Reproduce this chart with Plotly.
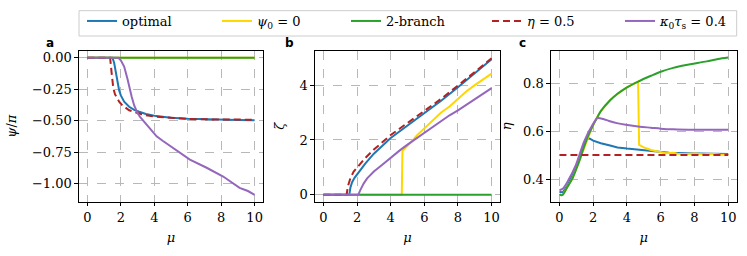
import plotly.graph_objects as go

# ---------------- data ----------------
# Panel a: psi/pi vs mu
a_opt_mu = [0, 1.5, 1.6, 1.7, 1.8, 1.9, 2.0, 2.2, 2.5, 2.8, 3.1, 3.5, 4.0, 4.5, 5.0, 6.0, 7.0, 8.0, 9.0, 10.0]
a_opt_psi = [0, 0, -0.04, -0.11, -0.20, -0.26, -0.30, -0.35, -0.39, -0.415, -0.43, -0.448, -0.462, -0.47, -0.477, -0.486, -0.491, -0.494, -0.496, -0.498]
a_psi0_mu = [0, 10]
a_psi0_psi = [0, 0]
a_2b_mu = [0, 10]
a_2b_psi = [0, 0]
a_eta_mu = [0, 1.36, 1.45, 1.55, 1.65, 1.8, 1.9, 2.1, 2.5, 3.0, 3.5, 4.0, 5.0, 6.0, 7.0, 8.0, 9.0, 10.0]
a_eta_psi = [0, 0, -0.12, -0.24, -0.29, -0.33, -0.35, -0.38, -0.418, -0.44, -0.458, -0.468, -0.48, -0.487, -0.49, -0.492, -0.493, -0.493]
a_kap_mu = [0, 1.85, 2.0, 2.2, 2.4, 2.5, 2.65, 2.8, 3.0, 3.15, 3.4, 3.7, 4.14, 4.5, 5.14, 6.13, 7.13, 8.12, 9.1, 9.6, 10.0]
a_kap_psi = [0, 0, -0.02, -0.07, -0.17, -0.23, -0.31, -0.38, -0.44, -0.47, -0.51, -0.56, -0.625, -0.66, -0.72, -0.81, -0.875, -0.945, -1.035, -1.06, -1.09]

# Panel b: zeta vs mu
b_opt_mu = [0, 1.54, 1.6, 1.7, 1.85, 2.0, 2.5, 3.0, 3.5, 4.0, 4.5, 5.0, 6.0, 7.0, 8.0, 9.0, 10.0]
b_opt_zeta = [0, 0, 0.25, 0.45, 0.62, 0.75, 1.15, 1.5, 1.8, 2.07, 2.3, 2.52, 2.97, 3.43, 3.92, 4.42, 4.94]
b_psi0_mu = [0, 4.66, 4.7, 5.0, 5.3, 5.53, 6.0, 6.51, 7.0, 7.5, 8.0, 8.49, 9.0, 9.5, 10.0]
b_psi0_zeta = [0, 0, 1.6, 1.78, 1.98, 2.15, 2.42, 2.74, 3.0, 3.22, 3.5, 3.77, 4.0, 4.22, 4.42]
b_2b_mu = [0, 10]
b_2b_zeta = [0, 0]
b_eta_mu = [0, 1.38, 1.45, 1.6, 1.8, 2.0, 2.5, 3.0, 3.5, 4.0, 4.5, 5.0, 6.0, 7.0, 8.0, 9.0, 10.0]
b_eta_zeta = [0, 0, 0.3, 0.6, 0.85, 1.0, 1.35, 1.65, 1.93, 2.18, 2.4, 2.62, 3.06, 3.5, 3.98, 4.48, 4.98]
b_kap_mu = [0, 2.07, 2.2, 2.4, 2.6, 3.0, 3.5, 4.0, 4.54, 5.0, 5.53, 6.0, 6.51, 7.0, 7.5, 8.0, 8.49, 9.0, 9.5, 10.0]
b_kap_zeta = [0, 0, 0.18, 0.42, 0.6, 0.85, 1.1, 1.36, 1.62, 1.83, 2.06, 2.27, 2.49, 2.7, 2.9, 3.08, 3.28, 3.5, 3.7, 3.89]

# Panel c: eta vs mu
c_opt_mu = [0, 0.2, 0.47, 0.97, 1.2, 1.46, 1.7, 1.8, 2.0, 2.45, 3.0, 3.44, 4.0, 4.43, 5.0, 5.75, 6.5, 7.5, 8.5, 10.0]
c_opt_eta = [0.346, 0.345, 0.372, 0.445, 0.49, 0.545, 0.57, 0.568, 0.56, 0.549, 0.54, 0.532, 0.527, 0.524, 0.52, 0.514, 0.51, 0.508, 0.506, 0.504]
c_2b_mu = [0, 0.1, 0.2, 0.47, 0.75, 0.97, 1.2, 1.46, 1.7, 1.96, 2.2, 2.45, 3.0, 3.44, 4.0, 4.66, 5.42, 6.0, 6.74, 7.5, 8.72, 9.4, 10.0]
c_2b_eta = [0.337, 0.333, 0.335, 0.367, 0.40, 0.437, 0.48, 0.535, 0.58, 0.62, 0.652, 0.683, 0.728, 0.755, 0.782, 0.806, 0.83, 0.847, 0.863, 0.875, 0.89, 0.90, 0.906]
c_psi0_mu = [0, 0.1, 0.2, 0.47, 0.75, 0.97, 1.2, 1.46, 1.7, 1.96, 2.2, 2.45, 3.0, 3.44, 4.0, 4.66, 4.72, 5.0, 5.42, 5.75, 6.0, 6.3, 6.74, 7.0, 7.5, 8.0, 8.5, 9.0, 9.5, 10.0]
c_psi0_eta = [0.337, 0.333, 0.335, 0.367, 0.40, 0.437, 0.48, 0.535, 0.58, 0.62, 0.652, 0.683, 0.728, 0.755, 0.782, 0.806, 0.542, 0.532, 0.521, 0.515, 0.512, 0.508, 0.51, 0.506, 0.505, 0.507, 0.503, 0.506, 0.502, 0.50]
c_eta_mu = [0, 10]
c_eta_eta = [0.5, 0.5]
c_kap_mu = [0, 0.2, 0.47, 0.97, 1.46, 1.96, 2.25, 2.6, 2.94, 3.4, 3.93, 4.76, 5.42, 6.0, 6.74, 8.0, 9.0, 10.0]
c_kap_eta = [0.354, 0.36, 0.388, 0.458, 0.556, 0.626, 0.654, 0.65, 0.642, 0.633, 0.626, 0.618, 0.614, 0.61, 0.607, 0.605, 0.605, 0.605]

labels = ["optimal", "<i>ψ</i><sub>0</sub> = 0", "2-branch", "<i>η</i> = 0.5",
          "<i>κ</i><sub>0</sub><i>τ</i><sub>s</sub> = 0.4"]
colors = ["#1f77b4", "#ffd700", "#2ca02c", "#b22222", "#9467bd"]
dashes = ["solid", "solid", "solid", "7px,4px", "solid"]

panels = [
    [(a_opt_mu, a_opt_psi), (a_psi0_mu, a_psi0_psi), (a_2b_mu, a_2b_psi), (a_eta_mu, a_eta_psi), (a_kap_mu, a_kap_psi)],
    [(b_opt_mu, b_opt_zeta), (b_psi0_mu, b_psi0_zeta), (b_2b_mu, b_2b_zeta), (b_eta_mu, b_eta_zeta), (b_kap_mu, b_kap_zeta)],
    [(c_opt_mu, c_opt_eta), (c_psi0_mu, c_psi0_eta), (c_2b_mu, c_2b_eta), (c_eta_mu, c_eta_eta), (c_kap_mu, c_kap_eta)],
]

W, H = 747, 256
FONT = "DejaVu Serif"
FS = 13
legnames = ["legend", "legend2", "legend3", "legend4", "legend5"]

fig = go.Figure()
axnames = ["", "2", "3"]
for p, series in enumerate(panels):
    for i, (xs, ys) in enumerate(series):
        smooth = (p == 2 and i in (2, 4))
        fig.add_trace(go.Scatter(
            x=xs, y=ys, mode="lines", name=labels[i],
            line=dict(color=colors[i], width=2, dash=dashes[i],
                      shape="spline" if smooth else "linear", smoothing=0.8),
            xaxis="x" + axnames[p], yaxis="y" + axnames[p],
            showlegend=(p == 0), legend=legnames[i],
        ))

xdoms = [(79, 263), (315, 500), (551, 736.7)]
ydom = [(256 - 201.7) / H, (256 - 50.8) / H]
yranges = [[-1.145, 0.055], [-0.25, 5.25], [0.306, 0.934]]
ytickvals = [[0, -0.25, -0.5, -0.75, -1.0], [0, 2, 4], [0.4, 0.6, 0.8]]
ytickfmt = [".2f", "d", ".1f"]
ytitles = ["<i>ψ</i>/<i>π</i>", "<i>ζ</i>", "<i>η</i>"]
ystandoff = [12, 11, 8]

common = dict(
    showline=True, linecolor="black", linewidth=1.2, mirror=True,
    ticks="outside", ticklen=3.5, tickwidth=1, tickcolor="black",
    showgrid=True, gridcolor="#b8b8b8", griddash="dash", gridwidth=0.8,
    zeroline=False, tickfont=dict(family=FONT, size=FS, color="black"),
)
for p in range(3):
    xa = dict(common)
    xa.update(domain=[xdoms[p][0] / W, xdoms[p][1] / W], range=[-0.5, 10.5],
              tickvals=[0, 2, 4, 6, 8, 10], anchor="y" + axnames[p],
              title=dict(text="<i>μ</i>", standoff=8, font=dict(family=FONT, size=FS, color="black")),
              automargin=False)
    ya = dict(common)
    ya.update(domain=ydom, range=yranges[p], tickvals=ytickvals[p], tickformat=ytickfmt[p],
              anchor="x" + axnames[p],
              title=dict(text=ytitles[p], standoff=ystandoff[p], font=dict(family=FONT, size=FS, color="black")),
              automargin=False)
    fig.update_layout(**{"xaxis" + axnames[p]: xa, "yaxis" + axnames[p]: ya})

for lab, px in zip(["a", "b", "c"], [50.5, 289, 522]):
    fig.add_annotation(text="<b>" + lab + "</b>", x=px / W, y=1 - 43 / H, xref="paper", yref="paper",
                       showarrow=False, xanchor="center", yanchor="middle",
                       font=dict(family="DejaVu Sans", size=12, color="black"))

# legend frame
fig.add_shape(type="rect", xref="paper", yref="paper",
              x0=79 / W, x1=736.7 / W, y0=1 - 36 / H, y1=1 - 10.7 / H,
              line=dict(color="#cccccc", width=1), fillcolor="rgba(255,255,255,0.8)", layer="above")

leg_x = [82, 217, 346, 487, 620]
layout_leg = {}
for name, lx in zip(legnames, leg_x):
    layout_leg[name] = dict(orientation="h", x=lx / W, y=1 - 6 / H, xanchor="left", yanchor="top",
                            bgcolor="rgba(0,0,0,0)", borderwidth=0, itemwidth=30,
                            font=dict(family=FONT, size=FS, color="black"))

fig.update_layout(
    width=W, height=H, margin=dict(l=0, r=0, t=0, b=0),
    paper_bgcolor="white", plot_bgcolor="white",
    font=dict(family=FONT, size=FS, color="black"),
    **layout_leg,
)

fig.write_html("out.html", config={"displayModeBar": False},
               post_script="document.body.style.margin='0';document.body.style.padding='0';")
